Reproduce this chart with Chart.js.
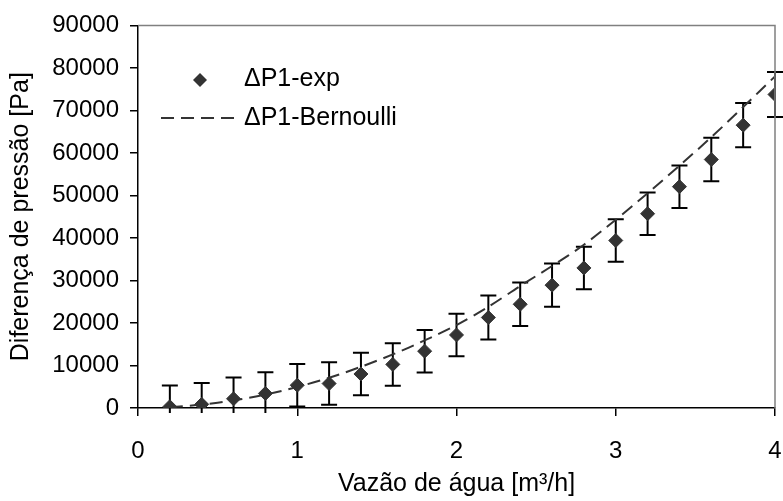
<!DOCTYPE html>
<html>
<head>
<meta charset="utf-8">
<script src="https://cdn.jsdelivr.net/npm/chart.js@4.4.0/dist/chart.umd.min.js"></script>
<style>
  html, body { margin: 0; padding: 0; background: #fff; }
  #grafico { display: block; }
</style>
</head>
<body>
<canvas id="grafico" width="783" height="501"></canvas>
<script>
// dados
const vazao = [0.2, 0.4, 0.6, 0.8, 1.0, 1.2, 1.4, 1.6, 1.8, 2.0, 2.2, 2.4, 2.6, 2.8, 3.0, 3.2, 3.4, 3.6, 3.8, 4.0];
const dpExp = [300, 860, 2170, 3420, 5360, 5750, 8000, 10260, 13370, 17180, 21290, 24400, 28900, 32950, 39400, 45700, 52070, 58450, 66530, 73760];
const dpErro = [5000, 5000, 5000, 5000, 5000, 5000, 5000, 5000, 5000, 5000, 5200, 5100, 5100, 5000, 5000, 5000, 5000, 5100, 5200, 5300];
const dpBernoulli = [200, 800, 1800, 3150, 4950, 7100, 9700, 12600, 15900, 19500, 23800, 28700, 33400, 38400, 44300, 50500, 57000, 63700, 70800, 78000];

const xTicks = [0, 1, 2, 3, 4];
const yTicks = [0, 10000, 20000, 30000, 40000, 50000, 60000, 70000, 80000, 90000];

const fonte = "'Liberation Sans', Arial, sans-serif";
const tamFonte = 25;
const tamTicks = 24;

// barras de erro desenhadas com as escalas do próprio gráfico
const barrasErro = {
  id: 'barrasErro',
  beforeDatasetsDraw(chart) {
    const ctx = chart.ctx;
    const xs = chart.scales.x, ys = chart.scales.y;
    const area = chart.chartArea;
    ctx.save();
    ctx.strokeStyle = '#000';
    ctx.lineWidth = 2;
    const cap = 8;
    vazao.forEach((q, i) => {
      const x = xs.getPixelForValue(q);
      const yTop = ys.getPixelForValue(dpExp[i] + dpErro[i]);
      let yBot = ys.getPixelForValue(dpExp[i] - dpErro[i]);
      const corta = yBot > area.bottom + 5;
      if (corta) yBot = area.bottom + 5;
      ctx.beginPath();
      ctx.moveTo(x, yTop);
      ctx.lineTo(x, yBot);
      ctx.moveTo(x - cap, yTop);
      ctx.lineTo(x + cap, yTop);
      if (!corta) {
        ctx.moveTo(x - cap, yBot);
        ctx.lineTo(x + cap, yBot);
      }
      ctx.stroke();
    });
    ctx.restore();
  }
};

// moldura cinza em cima e à direita + legenda dentro da área
const molduraLegenda = {
  id: 'molduraLegenda',
  afterDraw(chart) {
    const ctx = chart.ctx;
    const a = chart.chartArea;
    ctx.save();
    ctx.strokeStyle = '#808080';
    ctx.lineWidth = 1.5;
    ctx.beginPath();
    ctx.moveTo(a.left, a.top);
    ctx.lineTo(a.right, a.top);
    ctx.lineTo(a.right, a.bottom);
    ctx.stroke();

    // legenda
    ctx.font = tamFonte + 'px ' + fonte;
    ctx.textBaseline = 'middle';
    ctx.textAlign = 'left';

    ctx.fillStyle = '#333';
    ctx.beginPath();
    ctx.moveTo(200, 73);
    ctx.lineTo(207, 80);
    ctx.lineTo(200, 87);
    ctx.lineTo(193, 80);
    ctx.closePath();
    ctx.fill();
    ctx.fillStyle = '#000';
    ctx.fillText('ΔP1-exp', 244, 79);

    ctx.strokeStyle = '#333';
    ctx.lineWidth = 2;
    ctx.setLineDash([13, 7]);
    ctx.beginPath();
    ctx.moveTo(161, 118);
    ctx.lineTo(239, 118);
    ctx.stroke();
    ctx.setLineDash([]);
    ctx.fillText('ΔP1-Bernoulli', 244, 118);
    ctx.restore();
  }
};

const ctx = document.getElementById('grafico').getContext('2d');
new Chart(ctx, {
  type: 'scatter',
  data: {
    datasets: [
      {
        label: 'ΔP1-exp',
        data: vazao.map((q, i) => ({ x: q, y: dpExp[i] })),
        pointStyle: 'rectRot',
        pointRadius: 7,
        pointBackgroundColor: '#333',
        pointBorderColor: '#333',
        showLine: false,
        order: 1
      },
      {
        label: 'ΔP1-Bernoulli',
        type: 'line',
        data: vazao.map((q, i) => ({ x: q, y: dpBernoulli[i] })),
        borderColor: '#333',
        borderWidth: 2,
        borderDash: [13, 7],
        pointRadius: 0,
        tension: 0.3,
        fill: false,
        order: 2
      }
    ]
  },
  options: {
    responsive: false,
    devicePixelRatio: 1,
    animation: false,
    layout: { padding: { left: 0, right: 8, top: 24, bottom: 0 } },
    plugins: {
      legend: { display: false },
      tooltip: { enabled: false }
    },
    scales: {
      x: {
        type: 'linear',
        min: 0,
        max: 4,
        afterBuildTicks: s => { s.ticks = xTicks.map(v => ({ value: v })); },
        afterFit: s => { s.height = 93; s.paddingLeft = 0; s.paddingRight = 0; },
        ticks: {
          color: '#000',
          font: { family: fonte, size: tamTicks },
          padding: 21,
          maxRotation: 0,
          callback: v => String(v)
        },
        grid: { drawOnChartArea: false, drawTicks: true, tickLength: 8, color: '#000', lineWidth: 1.5 },
        border: { color: '#000', width: 1.5 },
        title: {
          display: true,
          text: 'Vazão de água [m³/h]',
          color: '#000',
          font: { family: fonte, size: tamFonte },
          padding: { top: 0, bottom: 2 }
        }
      },
      y: {
        min: 0,
        max: 90000,
        afterBuildTicks: s => { s.ticks = yTicks.map(v => ({ value: v })); },
        afterFit: s => { s.width = 138; },
        ticks: {
          color: '#000',
          font: { family: fonte, size: tamTicks },
          padding: 11,
          callback: v => String(v)
        },
        grid: { drawOnChartArea: false, drawTicks: true, tickLength: 8, color: '#000', lineWidth: 1.5 },
        border: { color: '#000', width: 1.5 },
        title: {
          display: true,
          text: 'Diferença de pressão [Pa]',
          color: '#000',
          font: { family: fonte, size: tamFonte },
          padding: { top: 6, bottom: 0 }
        }
      }
    }
  },
  plugins: [barrasErro, molduraLegenda]
});
</script>
</body>
</html>
